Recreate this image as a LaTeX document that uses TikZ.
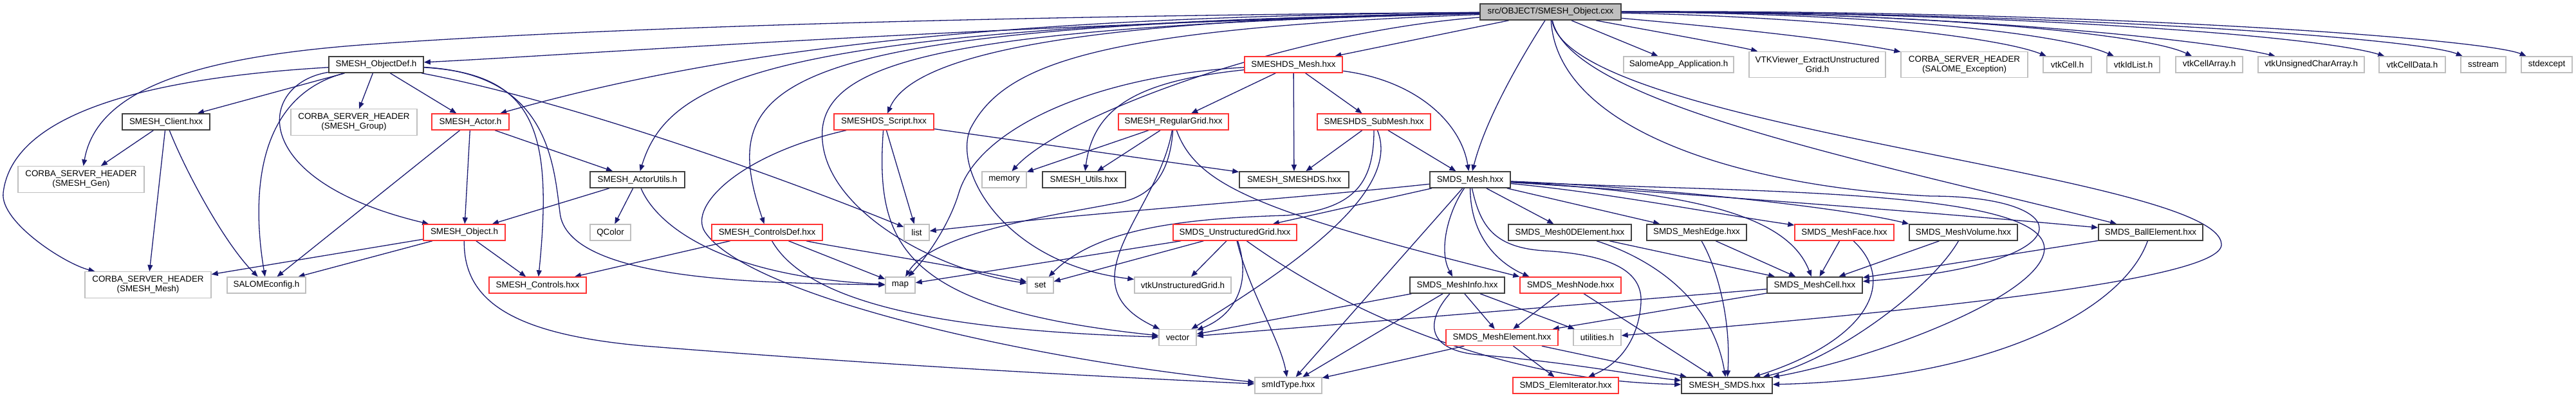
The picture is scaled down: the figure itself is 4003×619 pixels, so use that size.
\documentclass[tikz,border=0pt]{standalone}
\usepackage{fontspec}
\setmainfont{Liberation Sans}
\usetikzlibrary{arrows.meta}
\definecolor{edgec}{HTML}{191970}
\definecolor{grayb}{HTML}{BFBFBF}
\definecolor{darkb}{HTML}{404040}
\definecolor{redb}{HTML}{FF3333}
\definecolor{rootf}{HTML}{BFBFBF}
\pgfdeclarelayer{bg}
\pgfsetlayers{bg,main}
\begin{document}
\begin{tikzpicture}[x=0.5pt,y=-0.5pt,
  box/.style={rectangle, inner sep=0pt, fill=white, minimum height=12.5pt, align=center,
    font=\fontsize{6.7}{7.6}\selectfont},
  wd/.style={minimum width=#1*0.5pt},
  tall/.style={minimum height=20.25pt},
  nb/.style={box, draw=darkb, line width=0.85pt},
  nr/.style={box, draw=redb, line width=0.7pt},
  ng/.style={box, draw=grayb, line width=0.7pt},
  nroot/.style={box, draw=darkb, fill=rootf, line width=0.85pt},
  edg/.style={draw=edgec, line width=0.65pt, -{Triangle[length=5pt,width=4pt]}}
]
\useasboundingbox (0,0) rectangle (4003,619);

% row 0
\node[nroot, wd=219] (R) at (2409.5,18.5) {src/OBJECT/SMESH\_Object.cxx};
% row 1
\node[nb, wd=147] (OD) at (584.5,100.5) {SMESH\_ObjectDef.h};
\node[nr, wd=152] (DM) at (2010,100.5) {SMESHDS\_Mesh.hxx};
\node[ng, wd=171] (SalomeApp) at (2608.5,100.5) {SalomeApp\_Application.h};
\node[ng, wd=212, tall] (VTK) at (2824,100.5) {VTKViewer\_ExtractUnstructured\\Grid.h};
\node[ng, wd=197, tall] (CExc) at (3052.5,100.5) {CORBA\_SERVER\_HEADER\\(SALOME\_Exception)};
\node[ng, wd=75] (vtkCell) at (3212.5,100.5) {vtkCell.h};
\node[ng, wd=82] (vtkIdList) at (3315,100.5) {vtkIdList.h};
\node[ng, wd=104] (vtkCellArray) at (3433,100.5) {vtkCellArray.h};
\node[ng, wd=165] (vtkUCA) at (3591.5,100.5) {vtkUnsignedCharArray.h};
\node[ng, wd=103] (vtkCellData) at (3748.5,100.5) {vtkCellData.h};
\node[ng, wd=70] (sstream) at (3859,100.5) {sstream};
\node[ng, wd=79] (stdexcept) at (3957.5,100.5) {stdexcept};
% row 2
\node[nb, wd=136] (Client) at (258,189.5) {SMESH\_Client.hxx};
\node[ng, wd=196, tall] (CGroup) at (550,190) {CORBA\_SERVER\_HEADER\\(SMESH\_Group)};
\node[nr, wd=120] (Actor) at (731,189.5) {SMESH\_Actor.h};
\node[nr, wd=155] (Script) at (1373.5,189.5) {SMESHDS\_Script.hxx};
\node[nr, wd=171] (RG) at (1823.5,189.5) {SMESH\_RegularGrid.hxx};
\node[nr, wd=176] (SM) at (2135,189.5) {SMESHDS\_SubMesh.hxx};
% row 3
\node[ng, wd=196, tall] (CGen) at (126,279) {CORBA\_SERVER\_HEADER\\(SMESH\_Gen)};
\node[nb, wd=147] (AUtils) at (990.5,279.5) {SMESH\_ActorUtils.h};
\node[ng, wd=69] (memory) at (1560.5,279.5) {memory};
\node[nb, wd=129] (Utils) at (1684.5,279.5) {SMESH\_Utils.hxx};
\node[nb, wd=170] (SMESHDS) at (2011,279.5) {SMESH\_SMESHDS.hxx};
\node[nb, wd=125] (M) at (2284.5,279.5) {SMDS\_Mesh.hxx};
% row 4
\node[nr, wd=127] (Object) at (721.5,361.5) {SMESH\_Object.h};
\node[ng, wd=63] (QColor) at (948.5,361.5) {QColor};
\node[nr, wd=172] (CDef) at (1192,361.5) {SMESH\_ControlsDef.hxx};
\node[ng, wd=39] (list) at (1424.5,361.5) {list};
\node[nr, wd=192] (UG) at (1919,361.5) {SMDS\_UnstructuredGrid.hxx};
\node[nb, wd=191] (M0D) at (2439.5,361.5) {SMDS\_Mesh0DElement.hxx};
\node[nb, wd=155] (MEdge) at (2636.5,361.5) {SMDS\_MeshEdge.hxx};
\node[nr, wd=154] (MFace) at (2866,361.5) {SMDS\_MeshFace.hxx};
\node[nb, wd=168] (MVol) at (3051,361.5) {SMDS\_MeshVolume.hxx};
\node[nb, wd=162] (Ball) at (3342,361.5) {SMDS\_BallElement.hxx};
% row 5
\node[ng, wd=196, tall] (CMesh) at (230,443) {CORBA\_SERVER\_HEADER\\(SMESH\_Mesh)};
\node[ng, wd=122] (SALOMEconfig) at (414,443.5) {SALOMEconfig.h};
\node[nr, wd=151] (Controls) at (835.5,443.5) {SMESH\_Controls.hxx};
\node[ng, wd=46] (map) at (1399,443.5) {map};
\node[ng, wd=41] (set) at (1616.5,443.5) {set};
\node[ng, wd=150] (vtkUG) at (1838,443.5) {vtkUnstructuredGrid.h};
\node[nb, wd=147] (MInfo) at (2264.5,443.5) {SMDS\_MeshInfo.hxx};
\node[nr, wd=157] (MNode) at (2440.5,443.5) {SMDS\_MeshNode.hxx};
\node[nb, wd=148] (MCell) at (2820,443.5) {SMDS\_MeshCell.hxx};
% row 6
\node[ng, wd=58] (vector) at (1830,525) {vector};
\node[nr, wd=174] (MElem) at (2334,525) {SMDS\_MeshElement.hxx};
\node[ng, wd=74] (utilities) at (2482,525) {utilities.h};
% row 7
\node[ng, wd=104] (smId) at (2002,599.5) {smIdType.hxx};
\node[nr, wd=164] (ElemIt) at (2433,599.5) {SMDS\_ElemIterator.hxx};
\node[nb, wd=141] (SMDS) at (2683.5,599.5) {SMESH\_SMDS.hxx};

\begin{pgfonlayer}{bg}
% root
\draw[edg] (R) .. controls (1500,40) and (900,85) .. (OD);
\draw[edg] (R) .. controls (1500,25) and (900,45) .. (560,70) .. controls (300,90) and (150,140) .. (CGen);
\draw[edg] (R) .. controls (1600,25) and (1150,70) .. (Actor);
\draw[edg] (R) .. controls (1200,40) and (1040,120) .. (AUtils);
\draw[edg] (R) .. controls (1200,40) and (1110,120) .. (CDef);
\draw[edg] (R) .. controls (1700,30) and (1420,80) .. (Script);
\draw[edg] (R) -- (DM);
\draw[edg] (R) .. controls (2370,80) and (2310,180) .. (M);
\draw[edg] (R) -- (SalomeApp);
\draw[edg] (R) .. controls (2550,45) and (2680,68) .. (VTK);
\draw[edg] (R) .. controls (2650,40) and (2850,60) .. (CExc);
\draw[edg] (R) .. controls (2800,25) and (3100,55) .. (vtkCell);
\draw[edg] (R) .. controls (2900,20) and (3200,50) .. (vtkIdList);
\draw[edg] (R) .. controls (2950,18) and (3330,50) .. (vtkCellArray);
\draw[edg] (R) .. controls (3000,18) and (3420,60) .. (vtkUCA);
\draw[edg] (R) .. controls (3100,18) and (3600,55) .. (vtkCellData);
\draw[edg] (R) .. controls (3200,18) and (3760,60) .. (sstream);
\draw[edg] (R) .. controls (3250,15) and (3860,60) .. (stdexcept);
\draw[edg] (R) .. controls (2000,50) and (1650,180) .. (memory);
\draw[edg] (R) .. controls (1700,45) and (1560,100) .. (1508,200) .. controls (1480,265) and (1560,410) .. (vtkUG);
\draw[edg] (R) .. controls (1500,40) and (1290,90) .. (1278,200) .. controls (1268,320) and (1450,420) .. (set);
\draw[edg] (R) .. controls (2440,200) and (3448,270) .. (3452,380) .. controls (3455,440) and (2900,490) .. (utilities);
\draw[edg] (R) .. controls (2440,160) and (2900,250) .. (Ball);
\draw[edg] (R) .. controls (2420,200) and (2700,290) .. (3000,305) .. controls (3230,305) and (3250,410) .. (MCell);
% ObjectDef
\draw[edg] (OD) -- (Client);
\draw[edg] (OD) -- (CGroup);
\draw[edg] (OD) -- (Actor);
\draw[edg] (OD) .. controls (400,130) and (380,280) .. (Object);
\draw[edg] (OD) .. controls (400,150) and (390,300) .. (SALOMEconfig);
\draw[edg] (OD) .. controls (250,120) and (20,170) .. (5,300) .. controls (0,345) and (100,410) .. (CMesh);
\draw[edg] (OD) .. controls (830,115) and (860,200) .. (Controls);
\draw[edg] (OD) .. controls (850,115) and (860,250) .. (870,330) .. controls (880,440) and (1200,440) .. (map);
\draw[edg] (OD) .. controls (900,160) and (1250,290) .. (list);
% Client
\draw[edg] (Client) -- (CGen);
\draw[edg] (Client) -- (CMesh);
\draw[edg] (Client) .. controls (290,270) and (350,380) .. (SALOMEconfig);
% Actor
\draw[edg] (Actor) -- (Object);
\draw[edg] (Actor) -- (AUtils);
\draw[edg] (Actor) -- (SALOMEconfig);
% Object
\draw[edg] (Object) -- (CMesh);
\draw[edg] (Object) -- (SALOMEconfig);
\draw[edg] (Object) -- (Controls);
\draw[edg] (Object) .. controls (720,470) and (800,520) .. (1000,538) .. controls (1400,570) and (1700,585) .. (smId);
% ActorUtils
\draw[edg] (AUtils) -- (Object);
\draw[edg] (AUtils) -- (QColor);
\draw[edg] (AUtils) .. controls (1020,350) and (1120,430) .. (map);
% ControlsDef
\draw[edg] (CDef) -- (Controls);
\draw[edg] (CDef) .. controls (1300,385) and (1500,415) .. (set);
\draw[edg] (CDef) -- (map);
\draw[edg] (CDef) .. controls (1260,480) and (1500,515) .. (vector);
% Script
\draw[edg] (Script) -- (list);
\draw[edg] (Script) -- (SMESHDS);
\draw[edg] (Script) .. controls (1150,240) and (1070,320) .. (1095,360) .. controls (1160,460) and (1600,560) .. (smId);
\draw[edg] (Script) .. controls (1360,380) and (1400,480) .. (vector);
% SMESHDS_Mesh
\draw[edg] (DM) .. controls (1700,118) and (1520,200) .. (1490,300) .. controls (1475,350) and (1440,400) .. (map);
\draw[edg] (DM) .. controls (1780,125) and (1700,160) .. (Utils);
\draw[edg] (DM) -- (RG);
\draw[edg] (DM) -- (SMESHDS);
\draw[edg] (DM) -- (SM);
\draw[edg] (DM) .. controls (2200,125) and (2270,190) .. (M);
% RegularGrid
\draw[edg] (RG) -- (memory);
\draw[edg] (RG) -- (Utils);
\draw[edg] (RG) .. controls (1818,270) and (1790,305) .. (1740,315) .. controls (1650,333) and (1450,360) .. (map);
\draw[edg] (RG) .. controls (1800,330) and (1650,440) .. (vector);
\draw[edg] (RG) .. controls (1860,290) and (1960,330) .. (MNode.north west);
% SubMesh
\draw[edg] (SM) -- (SMESHDS);
\draw[edg] (SM) -- (M);
\draw[edg] (SM) .. controls (2135,290) and (2100,325) .. (2000,335) .. controls (1820,340) and (1700,360) .. (set);
\draw[edg] (SM) .. controls (2180,300) and (2000,420) .. (vector);
% SMDS_Mesh
\draw[edg] (M) .. controls (2000,310) and (1700,330) .. (list);
\draw[edg] (M) -- (UG);
\draw[edg] (M) -- (smId);
\draw[edg] (M) .. controls (2250,330) and (2235,390) .. (MInfo);
\draw[edg] (M) .. controls (2285,370) and (2330,410) .. ([xshift=7.5pt]MNode.north west);
\draw[edg] (M) .. controls (2300,350) and (2320,385) .. (2400,390) .. controls (2520,397) and (2552,430) .. (2550,470) .. controls (2548,510) and (2530,560) .. ([xshift=17.5pt]ElemIt.north);
\draw[edg] (M) -- (M0D);
\draw[edg] (M) -- (MEdge);
\draw[edg] (M) .. controls (2500,300) and (2650,330) .. (MFace);
\draw[edg] (M) .. controls (2550,290) and (2850,320) .. (MVol.north west);
\draw[edg] (M) .. controls (2600,300) and (3000,330) .. (Ball);
\draw[edg] (M) .. controls (2650,300) and (2780,340) .. (MCell);
\draw[edg] (M) .. controls (2700,300) and (3220,290) .. (3174,400) .. controls (3144,472) and (2900,560) .. (SMDS);
% UnstructuredGrid
\draw[edg] (UG) -- (vtkUG);
\draw[edg] (UG) .. controls (1945,440) and (1920,490) .. (vector);
\draw[edg] (UG) .. controls (1940,450) and (1990,530) .. (smId);
\draw[edg] (UG) -- (set);
\draw[edg] (UG) -- (map);
\draw[edg] (UG) .. controls (2000,420) and (2250,590) .. (SMDS);
% MeshInfo
\draw[edg] (MInfo) -- (vector);
\draw[edg] (MInfo) -- (smId);
\draw[edg] (MInfo) .. controls (2215,500) and (2215,545) .. (2300,552) .. controls (2450,565) and (2550,585) .. (SMDS);
\draw[edg] (MInfo) -- (MElem);
\draw[edg] (MInfo) -- (utilities);
% MeshNode
\draw[edg] (MNode) -- (MElem);
\draw[edg] (MNode) -- (SMDS);
% MeshElement
\draw[edg] (MElem) -- (smId);
\draw[edg] (MElem) -- (ElemIt);
\draw[edg] (MElem) -- (SMDS);
% element types
\draw[edg] (M0D) -- (MCell);
\draw[edg] (M0D) .. controls (2560,400) and (2660,460) .. (SMDS);
\draw[edg] (MEdge) -- (MCell);
\draw[edg] (MEdge) .. controls (2670,420) and (2690,500) .. (SMDS);
\draw[edg] (MFace) -- (MCell);
\draw[edg] (MFace) .. controls (2950,440) and (2900,530) .. (SMDS);
\draw[edg] (MVol) -- (MCell);
\draw[edg] (MVol) .. controls (3000,450) and (2850,560) .. (SMDS);
\draw[edg] (Ball) -- (MCell);
\draw[edg] (Ball) .. controls (3300,480) and (3100,590) .. (SMDS);
% MeshCell
\draw[edg] (MCell) -- (vector);
\draw[edg] (MCell) -- (MElem);
\end{pgfonlayer}
\end{tikzpicture}
\end{document}
